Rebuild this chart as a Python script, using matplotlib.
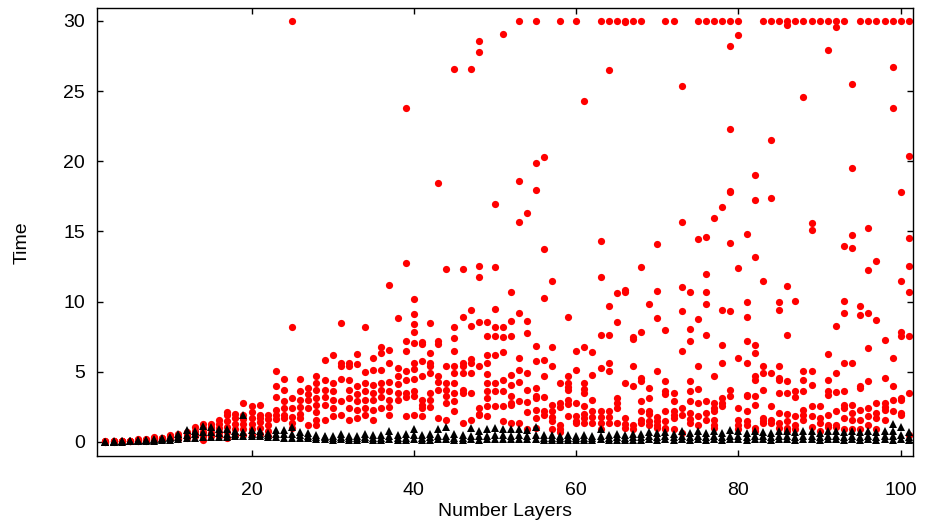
import matplotlib
matplotlib.use('Agg')
import matplotlib.pyplot as plt

# number of layers (x) and the measured times per run, one row per layer
layers = list(range(2, 102))

red_time = [
    [0.02, 0.03, 0.04, 0.05],  # 2
    [0.03, 0.04, 0.05, 0.06],
    [0.04, 0.05, 0.06, 0.08],
    [0.05, 0.07, 0.08, 0.10],
    [0.07, 0.10, 0.14, 0.20],
    [0.10, 0.13, 0.16, 0.20],
    [0.14, 0.20, 0.25, 0.32],
    [0.18, 0.22, 0.27, 0.30],
    [0.20, 0.30, 0.40, 0.50],  # 10
    [0.20, 0.30, 0.45, 0.55],
    [0.27, 0.40, 0.55, 0.74],
    [0.43, 0.60, 0.80, 1.09],
    [0.14, 0.40, 0.70, 1.00, 1.28],
    [0.39, 0.65, 0.90, 1.10, 1.28],
    [0.43, 0.70, 1.00, 1.30, 1.57],
    [0.30, 0.70, 1.10, 1.50, 1.90, 2.16],
    [0.53, 0.90, 1.30, 1.70, 1.98],
    [0.53, 0.90, 1.30, 1.60, 1.90, 2.74],
    [0.50, 0.90, 1.30, 1.70, 2.10, 2.54],  # 20
    [0.60, 1.00, 1.40, 1.70, 1.95, 2.66],
    [0.40, 0.80, 1.20, 1.60, 1.90],
    [1.60, 1.90, 2.30, 3.17, 3.96, 5.03],
    [1.70, 1.95, 2.40, 2.90, 3.72, 4.50],
    [1.00, 1.36, 1.80, 2.40, 3.10, 8.20, 30.0],
    [1.70, 2.00, 2.50, 3.00, 3.60, 4.45],
    [1.24, 2.42, 3.00, 3.40, 3.84],
    [1.24, 1.59, 2.10, 2.60, 3.13, 3.72, 4.20, 4.68],
    [1.59, 2.66, 3.20, 3.72, 4.44, 5.86],
    [1.83, 2.40, 3.00, 3.60, 4.20, 6.16],  # 30
    [1.95, 2.89, 4.50, 5.39, 5.63, 8.50],
    [1.54, 2.42, 3.13, 3.72, 4.44, 5.39, 5.63],
    [1.70, 2.30, 2.90, 3.40, 4.00, 5.57, 6.29],
    [1.95, 2.40, 3.00, 3.60, 4.20, 4.97, 8.18],
    [1.54, 2.30, 3.00, 3.50, 4.08, 5.15, 5.98],
    [2.42, 3.20, 3.70, 4.20, 5.15, 6.34, 6.80],
    [1.95, 2.50, 3.00, 3.60, 4.30, 5.63, 6.57, 11.20],
    [3.01, 3.50, 4.10, 4.68, 5.30, 8.80],
    [1.83, 3.20, 3.50, 4.44, 5.03, 6.50, 7.20, 12.74, 23.77],
    [1.95, 3.30, 3.60, 4.50, 5.20, 5.63, 7.05, 7.80, 8.40, 9.10, 10.20],  # 40
    [1.83, 2.40, 2.60, 3.00, 4.68, 5.80, 7.00, 7.10],
    [2.50, 3.00, 3.50, 4.90, 5.39, 5.63, 6.34, 8.50],
    [1.71, 3.72, 4.30, 4.68, 7.00, 7.20, 18.43],
    [1.59, 2.78, 3.25, 3.72, 4.20, 5.44, 12.29],
    [2.18, 2.89, 3.50, 4.20, 4.90, 5.44, 6.45, 7.40, 8.20, 26.57],
    [1.36, 3.50, 3.70, 4.90, 5.40, 5.63, 8.90, 12.29],
    [1.59, 3.48, 4.90, 5.60, 5.90, 8.28, 9.42, 26.57],
    [1.90, 2.00, 2.40, 5.44, 8.52, 11.77, 12.53, 27.78, 28.59],
    [1.83, 2.54, 3.13, 3.60, 4.20, 4.85, 5.63, 6.22, 7.52, 8.52],
    [2.54, 3.60, 4.20, 6.22, 7.52, 8.19, 9.47, 12.48, 16.96],  # 50
    [1.48, 2.54, 3.60, 4.44, 6.39, 7.47, 8.19, 29.06],
    [1.36, 2.60, 2.78, 3.25, 4.08, 4.80, 7.52, 8.63, 10.65],
    [1.36, 2.89, 4.27, 5.15, 5.98, 9.18, 15.64, 18.60, 30.0],
    [0.89, 2.13, 2.83, 3.72, 4.91, 7.76, 8.63, 16.28],
    [1.00, 1.71, 2.30, 3.13, 3.30, 3.84, 5.77, 6.86, 17.98, 19.90, 30.0],
    [1.90, 2.18, 3.20, 4.68, 5.87, 10.25, 13.74, 20.30],
    [0.89, 1.48, 1.80, 2.20, 2.66, 5.39, 6.74, 11.50],
    [0.70, 0.90, 1.20, 2.50, 2.78, 4.20, 30.0],
    [1.83, 2.70, 3.01, 3.72, 3.90, 4.20, 4.68, 8.90],
    [1.36, 1.50, 1.83, 2.78, 5.15, 6.45, 30.0],  # 60
    [1.36, 1.70, 2.00, 2.54, 3.48, 3.80, 4.20, 6.74, 24.30],
    [1.36, 1.80, 2.20, 3.00, 4.80, 6.40],
    [0.89, 1.36, 1.80, 2.20, 5.27, 7.64, 11.74, 14.30, 30.0],
    [1.36, 1.80, 2.20, 5.03, 5.63, 7.64, 9.68, 26.50, 30.0],
    [1.36, 2.40, 2.80, 3.13, 8.52, 10.60, 30.0],
    [1.00, 1.30, 1.70, 4.20, 10.70, 10.80, 29.90, 30.0],
    [0.89, 1.24, 3.96, 5.39, 7.30, 7.50, 30.0],
    [1.36, 1.59, 2.18, 2.89, 4.32, 4.56, 7.81, 12.46, 30.0],
    [1.24, 1.50, 2.00, 2.20, 3.13, 3.84, 9.84],
    [1.00, 1.20, 1.50, 1.80, 5.03, 8.83, 10.72, 14.07],  # 70
    [0.89, 1.00, 1.48, 2.18, 3.40, 3.60, 4.32, 8.00, 30.0],
    [0.89, 1.70, 1.90, 2.18, 2.89, 3.48, 30.0],
    [0.65, 1.95, 2.42, 6.45, 9.35, 11.05, 15.68, 25.36],
    [1.36, 1.60, 2.07, 2.95, 3.60, 4.32, 7.17, 8.04, 10.70],
    [1.24, 1.83, 2.78, 3.77, 5.39, 8.75, 14.45, 30.0],
    [1.59, 2.07, 2.95, 7.59, 9.84, 10.70, 11.94, 14.57, 30.0],
    [1.00, 1.24, 1.59, 2.18, 2.40, 2.78, 4.68, 15.97, 30.0],
    [2.54, 2.80, 3.13, 5.63, 6.93, 9.42, 16.73, 30.0],
    [3.25, 3.72, 9.30, 14.20, 17.80, 17.90, 22.28, 28.20, 30.0],
    [0.89, 1.20, 1.59, 2.42, 5.98, 12.39, 28.97, 30.0],  # 80
    [1.24, 1.48, 2.18, 3.25, 3.37, 5.63, 7.17, 8.92, 9.94, 14.83],
    [0.77, 1.00, 2.66, 3.25, 4.40, 4.68, 6.34, 6.93, 13.17, 17.25, 19.00],
    [1.36, 1.50, 1.71, 3.72, 4.91, 5.44, 11.46, 30.0],
    [1.36, 1.59, 2.54, 4.91, 17.35, 21.50, 30.0],
    [1.00, 1.36, 2.07, 3.48, 4.44, 4.56, 5.44, 9.42, 9.94, 30.0],
    [0.77, 1.00, 1.48, 1.99, 3.48, 4.32, 7.59, 11.10, 29.70, 30.0],
    [0.90, 1.24, 1.83, 3.20, 3.60, 10.01, 30.0],
    [1.59, 1.90, 2.30, 3.60, 4.44, 5.03, 24.60, 30.0],
    [1.07, 1.83, 2.54, 4.08, 5.03, 15.10, 15.59, 30.0],
    [0.77, 1.36, 1.71, 2.54, 30.0],  # 90
    [1.10, 1.24, 1.95, 3.37, 3.60, 4.44, 6.27, 27.95, 30.0],
    [1.10, 1.24, 2.18, 3.55, 4.91, 8.28, 29.55, 30.0],
    [0.95, 1.71, 2.42, 2.60, 3.60, 5.63, 9.16, 10.01, 13.93, 30.0],
    [0.89, 1.59, 2.07, 2.60, 5.63, 13.84, 14.73, 19.55, 25.50],
    [0.89, 1.59, 2.30, 3.84, 4.00, 9.06, 9.72, 30.0],
    [1.24, 1.83, 2.42, 4.32, 6.69, 9.18, 12.24, 15.23, 30.0],
    [0.95, 1.71, 2.07, 2.78, 8.66, 12.87, 30.0],
    [1.59, 2.30, 2.50, 2.78, 4.56, 7.28, 30.0],
    [2.18, 3.01, 4.01, 5.98, 23.77, 26.70, 30.0],
    [1.90, 2.07, 3.00, 3.13, 7.52, 7.80, 11.50, 17.80, 30.0],  # 100
    [0.53, 3.48, 7.52, 10.70, 12.53, 14.50, 20.40, 30.0],
]

black_time = [
    [0.01, 0.02, 0.03], [0.02, 0.03, 0.04], [0.03, 0.04, 0.06], [0.04, 0.06, 0.08],
    [0.06, 0.09, 0.13], [0.08, 0.12, 0.16], [0.10, 0.16, 0.22], [0.12, 0.20, 0.26],
    [0.15, 0.25, 0.38], [0.20, 0.35, 0.58], [0.25, 0.50, 0.85], [0.30, 0.55, 0.80],  # 2-13
    [0.35, 0.70, 1.15], [0.35, 0.70, 1.10], [0.35, 0.65, 0.95], [0.35, 0.60, 0.90],
    [0.40, 0.60, 0.80], [0.40, 0.70, 1.95], [0.45, 0.60, 0.85], [0.40, 0.55, 0.75],
    [0.35, 0.50, 0.65], [0.35, 0.55, 0.85], [0.30, 0.55, 0.85], [0.30, 0.60, 1.10],  # 14-25
    [0.30, 0.50, 0.70], [0.25, 0.45, 0.65], [0.20, 0.35, 0.50], [0.20, 0.35, 0.45],
    [0.15, 0.30, 0.45], [0.20, 0.35, 0.55], [0.15, 0.30, 0.45], [0.15, 0.30, 0.45],
    [0.20, 0.35, 0.60], [0.15, 0.30, 0.50], [0.15, 0.30, 0.50], [0.20, 0.40, 0.75],  # 26-37
    [0.15, 0.30, 0.50], [0.15, 0.30, 0.55], [0.20, 0.50, 0.95], [0.15, 0.30, 0.50],
    [0.15, 0.35, 0.60], [0.20, 0.40, 0.90], [0.20, 0.45, 1.05], [0.15, 0.30, 0.55],
    [0.15, 0.30, 0.50], [0.20, 0.45, 1.00], [0.15, 0.40, 0.80], [0.20, 0.45, 0.95],  # 38-49
    [0.20, 0.50, 1.00], [0.20, 0.50, 0.95], [0.20, 0.45, 0.90], [0.20, 0.50, 0.95],
    [0.20, 0.45, 0.85], [0.20, 0.50, 1.05], [0.15, 0.30, 0.50], [0.15, 0.30, 0.50],
    [0.15, 0.30, 0.45], [0.15, 0.30, 0.50], [0.15, 0.30, 0.45], [0.15, 0.30, 0.50],  # 50-61
    [0.15, 0.30, 0.45], [0.20, 0.45, 0.90], [0.15, 0.30, 0.50], [0.15, 0.35, 0.55],
    [0.15, 0.30, 0.50], [0.15, 0.35, 0.60], [0.15, 0.35, 0.60], [0.20, 0.40, 0.70],
    [0.15, 0.35, 0.65], [0.20, 0.40, 0.70], [0.15, 0.35, 0.60], [0.20, 0.40, 0.75],  # 62-73
    [0.15, 0.35, 0.65], [0.20, 0.40, 0.75], [0.15, 0.35, 0.65], [0.20, 0.40, 0.75],
    [0.15, 0.35, 0.65], [0.20, 0.45, 0.85], [0.20, 0.40, 0.75], [0.15, 0.35, 0.65],
    [0.20, 0.40, 0.80], [0.20, 0.40, 0.70], [0.15, 0.35, 0.65], [0.20, 0.40, 0.75],  # 74-85
    [0.20, 0.40, 0.80], [0.15, 0.35, 0.70], [0.20, 0.40, 0.75], [0.20, 0.40, 0.80],
    [0.15, 0.35, 0.65], [0.20, 0.40, 0.75], [0.20, 0.40, 0.80], [0.15, 0.35, 0.70],
    [0.20, 0.40, 0.80], [0.15, 0.35, 0.70], [0.20, 0.40, 0.75], [0.15, 0.35, 0.70],  # 86-97
    [0.20, 0.40, 0.80], [0.15, 0.40, 0.75, 1.30], [0.20, 0.50, 1.05], [0.15, 0.35, 0.70],  # 98-101
]

xticks = [20, 40, 60, 80, 100]
yticks = [0, 5, 10, 15, 20, 25, 30]

plt.rcParams['font.family'] = ['Liberation Sans', 'DejaVu Sans']

# flatten per-layer runs into points
rx, ry = [], []
for n, ts in zip(layers, red_time):
    for t in ts:
        rx.append(n)
        ry.append(t)
bx, by = [], []
for n, ts in zip(layers, black_time):
    for t in ts:
        bx.append(n)
        by.append(t)

fig = plt.figure(figsize=(9.25, 5.28), dpi=100)
ax = fig.add_axes([0.1052, 0.1364, 0.8818, 0.8479])

ax.plot(rx, ry, 'o', color='#ff0000', markersize=5.2, markeredgewidth=0)
ax.plot(bx, by, '^', color='black', markersize=5.2, markeredgewidth=0)

ax.set_xlim(1, 101.5)
ax.set_ylim(-1, 30.9)
ax.set_xticks(xticks)
ax.set_yticks(yticks)
ax.tick_params(direction='in', top=True, right=True, length=4, width=1,
               labelsize=14, colors='black')
ax.tick_params(axis='x', pad=19)
ax.tick_params(axis='y', pad=9)
for s in ax.spines.values():
    s.set_linewidth(1.0)

fig.text(0.546, 0.032, 'Number Layers', ha='center', va='center', fontsize=14)
fig.text(0.024, 0.54, 'Time', ha='center', va='center', rotation=90, fontsize=14)

fig.savefig('out.png', dpi=100)
